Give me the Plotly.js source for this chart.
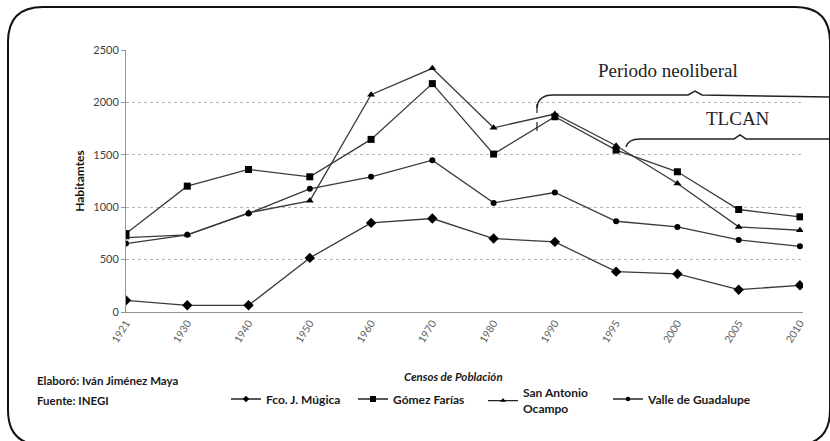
<!DOCTYPE html>
<html>
<head>
<meta charset="utf-8">
<script src="https://cdn.plot.ly/plotly-3.0.1.min.js"></script>
<style>html,body{margin:0;padding:0;background:#fff;}#chart{width:830px;height:441px;}</style>
</head>
<body>
<div id="chart"></div>
<script>
const years = ['1921','1930','1940','1950','1960','1970','1980','1990','1995','2000','2005','2010'];
const mugica = [111, 64, 64, 516, 850, 892, 701, 669, 385, 363, 213, 255];
const gomez = [748, 1201, 1360, 1290, 1647, 2179, 1507, 1863, 1545, 1338, 978, 908];
const sanAntonio = [710, 736, 946, 1061, 2073, 2325, 1758, 1889, 1586, 1226, 812, 780];
const valle = [653, 736, 940, 1175, 1290, 1449, 1041, 1140, 866, 812, 688, 627];
const seriesNames = ['Fco. J. Múgica', 'Gómez Farías', 'San Antonio<br>Ocampo', 'Valle de Guadalupe'];
const yTicks = [0, 500, 1000, 1500, 2000, 2500];

const W = 830, H = 441;
const M = {l: 126, r: 27, t: 50, b: 129};
const PW = W - M.l - M.r, PH = H - M.t - M.b;
const X = px => (px - M.l) / PW;
const Y = py => 1 - (py - M.t) / PH;
const P = (px, py) => X(px).toFixed(5) + ',' + Y(py).toFixed(5);

const lineCol = '#3a3a3a';
const mk = (name, y, symbol, size) => ({
  type: 'scatter', mode: 'lines+markers', x: years, y: y, name: name,
  line: {color: lineCol, width: 1.3},
  marker: {symbol: symbol, size: size, color: '#000'},
  showlegend: false
});
// legend-only entries with the small symbols used in the reference legend
const lg = (name, symbol, size, legend) => ({
  type: 'scatter', mode: 'lines+markers', x: [null], y: [null], name: name,
  line: {color: '#222', width: 1.3},
  marker: {symbol: symbol, size: size, color: '#000'},
  legend: legend, hoverinfo: 'skip'
});
const data = [
  mk(seriesNames[0], mugica, 'diamond', 8),
  mk(seriesNames[1], gomez, 'square', 7),
  mk(seriesNames[2], sanAntonio, 'triangle-up', 7),
  mk(seriesNames[3], valle, 'circle', 6),
  lg(seriesNames[0], 'diamond', 5, 'legend'),
  lg(seriesNames[1], 'square', 6, 'legend2'),
  lg(seriesNames[2], 'triangle-up', 5, 'legend3'),
  lg(seriesNames[3], 'circle', 4.5, 'legend4')
];

const legFont = {family: 'Lato, sans-serif', size: 12, color: '#1a1a1a', weight: 'bold'};
const legBase = (px, py) => ({
  orientation: 'h', x: X(px), y: Y(py), xanchor: 'left', yanchor: 'middle',
  font: legFont, bgcolor: 'rgba(0,0,0,0)', itemwidth: 30, tracegroupgap: 0
});

// rounded border
const bx0 = 8, bx1 = 830, by0 = 7, by1 = 445, r = 35;
const border = 'M' + P(bx0 + r, by0) + ' L' + P(bx1 - r, by0) +
  ' Q' + P(bx1, by0) + ' ' + P(bx1, by0 + r) +
  ' L' + P(bx1, by1 - r) + ' Q' + P(bx1, by1) + ' ' + P(bx1 - r, by1) +
  ' L' + P(bx0 + r, by1) + ' Q' + P(bx0, by1) + ' ' + P(bx0, by1 - r) +
  ' L' + P(bx0, by0 + r) + ' Q' + P(bx0, by0) + ' ' + P(bx0 + r, by0) + ' Z';

const brace1 = 'M' + P(537, 108) + ' Q' + P(538, 95) + ' ' + P(553, 95) +
  ' L' + P(688, 95) + ' L' + P(695, 91) + ' L' + P(702, 95) + ' L' + P(830, 97);
const brace2 = 'M' + P(626, 147) + ' Q' + P(628, 139) + ' ' + P(640, 139) +
  ' L' + P(734, 139) + ' L' + P(740, 135) + ' L' + P(746, 139) + ' L' + P(830, 139);

const layout = {
  width: W, height: H,
  margin: M,
  paper_bgcolor: '#fff', plot_bgcolor: '#fff',
  font: {family: 'Lato, sans-serif', color: '#404040'},
  showlegend: true,
  xaxis: {
    type: 'category', range: [0, 11.05], showgrid: false, zeroline: false,
    showline: true, linecolor: '#9a908c', linewidth: 1,
    tickangle: -58, tickfont: {family: 'Lato, sans-serif', size: 10.5, color: '#606060'},
    ticks: '', ticklen: 0
  },
  yaxis: {
    range: [0, 2500], tickvals: yTicks, ticktext: yTicks.map(String),
    showgrid: true, gridcolor: '#bdb3af', griddash: 'dot', gridwidth: 1,
    zeroline: false, showline: true, linecolor: '#9a908c', linewidth: 1,
    ticks: 'outside', ticklen: 4, tickcolor: '#9a908c',
    tickfont: {family: 'Lato, sans-serif', size: 11, color: '#404040'},
    title: {text: 'Habitamtes', font: {family: 'Lato, sans-serif', size: 12, color: '#111', weight: 'bold'}, standoff: 6}
  },
  legend: legBase(226, 399),
  legend2: legBase(353, 399),
  legend3: legBase(483, 401),
  legend4: legBase(608, 399),
  shapes: [
    {type: 'path', xref: 'paper', yref: 'paper', path: border, line: {color: '#111', width: 2}, fillcolor: 'rgba(0,0,0,0)'},
    {type: 'path', xref: 'paper', yref: 'paper', path: brace1, line: {color: '#222', width: 1.5}},
    {type: 'path', xref: 'paper', yref: 'paper', path: brace2, line: {color: '#222', width: 1.5}},
    {type: 'line', xref: 'paper', yref: 'paper', x0: X(537), x1: X(537), y0: Y(104), y1: Y(131), line: {color: '#222', width: 1.2, dash: 'dash'}}
  ],
  annotations: [
    {text: 'Periodo neoliberal', xref: 'paper', yref: 'paper', x: X(668), y: Y(70), showarrow: false, xanchor: 'center', yanchor: 'middle', font: {family: '"Liberation Serif", serif', size: 19, color: '#222'}},
    {text: 'TLCAN', xref: 'paper', yref: 'paper', x: X(738), y: Y(118), showarrow: false, xanchor: 'center', yanchor: 'middle', font: {family: '"Liberation Serif", serif', size: 19, color: '#222'}},
    {text: '<i>Censos de Población</i>', xref: 'paper', yref: 'paper', x: X(453), y: Y(376), showarrow: false, xanchor: 'center', yanchor: 'middle', font: {family: 'Lato, sans-serif', size: 11.5, color: '#1a1a1a', weight: 'bold'}},
    {text: 'Elaboró: Iván Jiménez Maya', xref: 'paper', yref: 'paper', x: X(35), y: Y(380), showarrow: false, xanchor: 'left', yanchor: 'middle', font: {family: 'Lato, sans-serif', size: 11.5, color: '#1a1a1a', weight: 'bold'}},
    {text: 'Fuente: INEGI', xref: 'paper', yref: 'paper', x: X(35), y: Y(400), showarrow: false, xanchor: 'left', yanchor: 'middle', font: {family: 'Lato, sans-serif', size: 11.5, color: '#1a1a1a', weight: 'bold'}}
  ]
};

Plotly.newPlot('chart', data, layout, {displayModeBar: false, staticPlot: true});
</script>
</body>
</html>
